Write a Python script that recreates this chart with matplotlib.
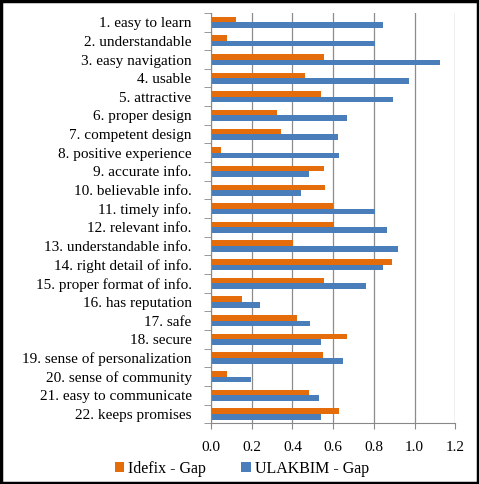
import matplotlib
matplotlib.use("Agg")
import matplotlib.pyplot as plt
from matplotlib.patches import Rectangle
from matplotlib.ticker import FixedLocator
import numpy as np

# ── data ──────────────────────────────────────────────────────────────────────
categories = [
    "1. easy to learn", "2. understandable", "3. easy navigation", "4. usable",
    "5. attractive", "6. proper design", "7. competent design",
    "8. positive experience", "9. accurate info.", "10. believable info.",
    "11. timely info.", "12. relevant info.", "13. understandable info.",
    "14. right detail of info.", "15. proper format of info.",
    "16. has reputation", "17. safe", "18. secure",
    "19. sense of personalization", "20. sense of community",
    "21. easy to communicate", "22. keeps promises",
]
idefix_gap = [0.125, 0.079, 0.553, 0.461, 0.542, 0.325, 0.346, 0.051,
              0.553, 0.560, 0.599, 0.604, 0.401, 0.888, 0.553, 0.154,
              0.420, 0.670, 0.548, 0.077, 0.479, 0.627]
ulakbim_gap = [0.844, 0.808, 1.125, 0.974, 0.893, 0.670, 0.624, 0.631,
               0.479, 0.440, 0.808, 0.864, 0.918, 0.844, 0.760, 0.240,
               0.484, 0.539, 0.650, 0.195, 0.532, 0.539]
x_ticks = [0.0, 0.2, 0.4, 0.6, 0.8, 1.0, 1.2]

# ── style ─────────────────────────────────────────────────────────────────────
plt.rcParams.update({
    "font.family": "Liberation Serif",
    "font.size":   11,
})
ORANGE = "#E46C0A"
BLUE   = "#4A7EBB"
AXIS   = "#888888"

fig = plt.figure(figsize=(4.79, 4.84), dpi=100)
ax = fig.add_axes([0.4405, 0.1254, 0.51, 0.848])

y = np.arange(len(categories))
h = 0.3
ax.barh(y - h / 2, idefix_gap, height=h, color=ORANGE, label="Idefix - Gap")
ax.barh(y + h / 2, ulakbim_gap, height=h, color=BLUE, label="ULAKBIM - Gap")

ax.set_ylim(len(categories) - 0.5, -0.5)
ax.set_xlim(0, 1.2)

# y axis: labels at centers, tick marks at category boundaries
ax.set_yticks(y)
ax.set_yticklabels(categories)
ax.tick_params(axis="y", which="major", length=0, pad=14)
ax.yaxis.set_minor_locator(FixedLocator(np.arange(len(categories) + 1) - 0.5))
ax.tick_params(axis="y", which="minor", length=5, color=AXIS, direction="out")

ax.set_xticks(x_ticks)
ax.set_xticklabels([f"{t:.1f}" for t in x_ticks])
ax.tick_params(axis="x", length=4, color=AXIS, direction="out", pad=9)

ax.grid(axis="x", color="#8c8c8c", linewidth=0.9)
ax.set_axisbelow(True)
for side in ("top", "right"):
    ax.spines[side].set_visible(False)
for side in ("left", "bottom"):
    ax.spines[side].set_color(AXIS)

fig.legend(loc="center", bbox_to_anchor=(0.505, 0.031), ncol=2, frameon=False,
           handlelength=0.6, handleheight=0.6, handletextpad=0.25,
           columnspacing=2.2, fontsize=11.5)

# outer frame
fig.patches.append(Rectangle((0.002, 0.002), 0.996, 0.996, transform=fig.transFigure,
                             fill=False, edgecolor="black", linewidth=2.5))

fig.savefig("out.png", dpi=100)
